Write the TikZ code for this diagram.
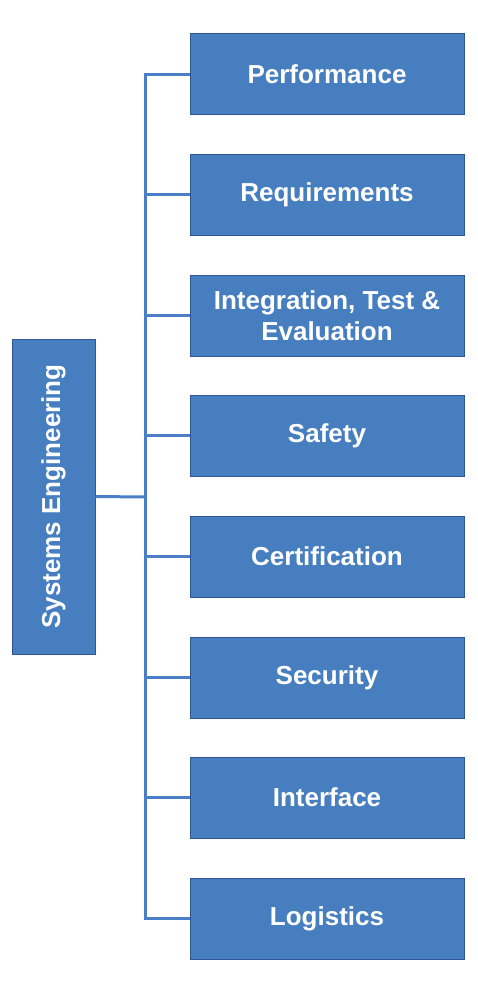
\documentclass[tikz,border=0pt]{standalone}
\usepackage{fontspec}
\setmainfont{Liberation Sans}
\definecolor{boxfill}{RGB}{70,126,192}
\definecolor{boxline}{RGB}{47,85,151}
\definecolor{conn}{RGB}{74,126,199}
\begin{document}
\begin{tikzpicture}[x=1pt,y=-1pt,
  item/.style={draw=boxline,line width=0.8pt,fill=boxfill,minimum width=274pt,minimum height=81pt,
    text=white,font=\fontsize{26}{31}\selectfont\bfseries,align=center,inner sep=0pt},
  root/.style={draw=boxline,line width=0.8pt,fill=boxfill,minimum width=83pt,minimum height=315pt,
    text=white,font=\fontsize{26}{31}\selectfont\bfseries,inner sep=0pt},
  link/.style={draw=conn,line width=3pt}]
\useasboundingbox (0,0) rectangle (478,994);
\node[root] (sys) at (53.5,496.5) {\rotatebox{90}{Systems Engineering}};
\node[item] (n1) at (327,74) {Performance};
\node[item] (n2) at (327,194.5) {Requirements};
\node[item] (n3) at (327,315.5) {Integration, Test \&\\Evaluation};
\node[item] (n4) at (327,435.5) {Safety};
\node[item] (n5) at (327,556.5) {Certification};
\node[item] (n6) at (327,677.5) {Security};
\node[item] (n7) at (327,797.5) {Interface};
\node[item] (n8) at (327,918.5) {Logistics};
\coordinate (top) at (145,74);
\coordinate (bot) at (145,918.5);
\coordinate (mid) at (145,497);
\draw[link] (sys.east) -- (mid);
\draw[link,line cap=rect] (top) -- (bot);
\foreach \n in {n1,n2,n3,n4,n5,n6,n7,n8}
  \draw[link] (145,0 |- \n.west) -- (\n.west);
\end{tikzpicture}
\end{document}
